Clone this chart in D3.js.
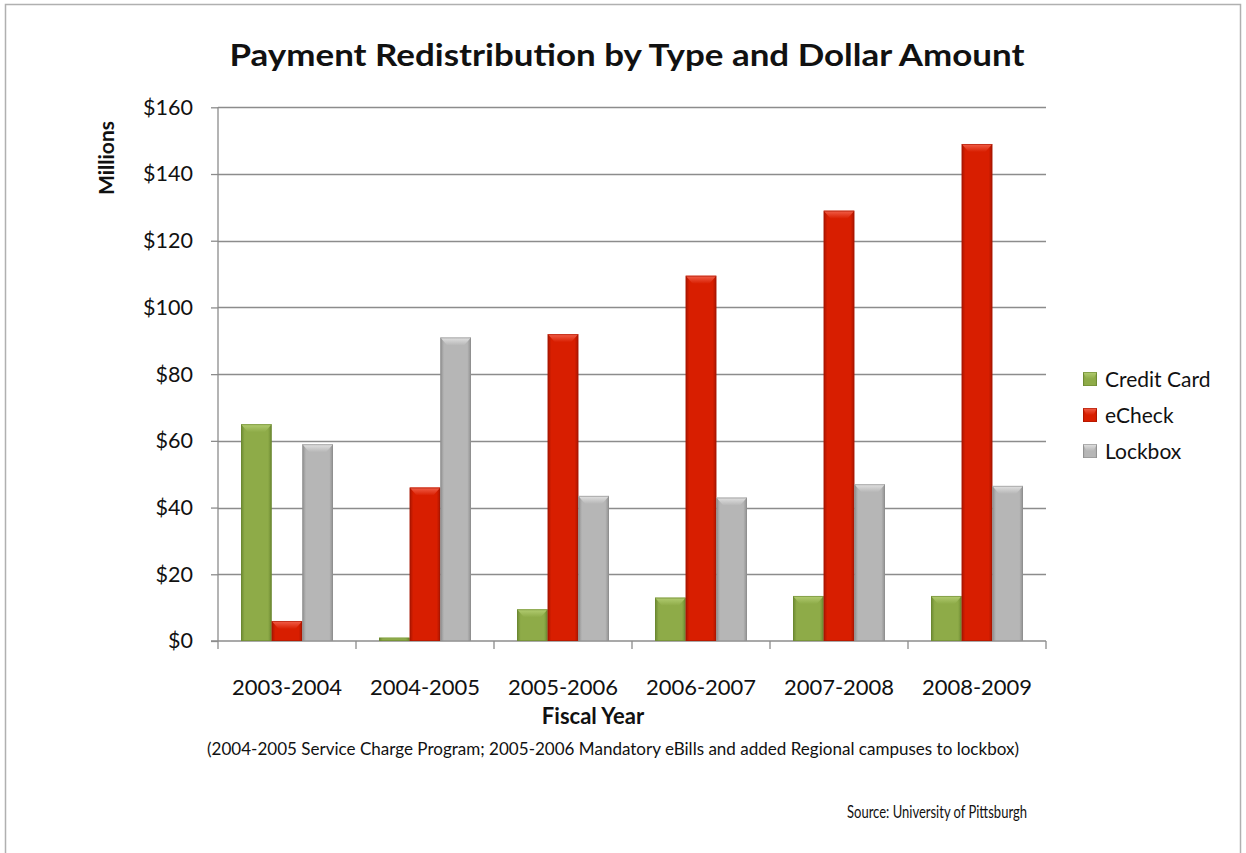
<!DOCTYPE html>
<html><head><meta charset="utf-8">
<script src="https://cdn.jsdelivr.net/npm/d3@7"></script>
<style>body{margin:0;background:#fff;} svg{display:block;font-family:Lato,"Open Sans",sans-serif;}</style>
</head><body>
<svg id="c" width="1246" height="853"></svg>
<script>
const categories = ["2003-2004","2004-2005","2005-2006","2006-2007","2007-2008","2008-2009"];
const seriesNames = ["Credit Card","eCheck","Lockbox"];
const creditCard = [65, 1, 9.5, 13, 13.5, 13.5];
const eCheck = [6, 46, 92, 109.5, 129, 149];
const lockbox = [59, 91, 43.5, 43, 47, 46.5];
const yTicks = [0,20,40,60,80,100,120,140,160];
const seriesValues = [creditCard, eCheck, lockbox];

(function(){
const palette = [
  {base:"#8eab48", light:"#b3cd72", dark:"#6a8730"},
  {base:"#d81e00", light:"#f2604a", dark:"#a81500"},
  {base:"#b6b6b6", light:"#e2e2e2", dark:"#8e8e8e"}
];

const svg = d3.select("#c");
const defs = svg.append("defs");
palette.forEach((p,i)=>{
  const g = defs.append("linearGradient").attr("id","g"+i).attr("x1","0").attr("x2","1").attr("y1","0").attr("y2","0");
  g.append("stop").attr("offset","0").attr("stop-color",p.dark);
  g.append("stop").attr("offset","0.12").attr("stop-color",p.base);
  g.append("stop").attr("offset","0.5").attr("stop-color",p.base);
  g.append("stop").attr("offset","0.88").attr("stop-color",p.base);
  g.append("stop").attr("offset","1").attr("stop-color",p.dark);
  const t = defs.append("linearGradient").attr("id","t"+i).attr("x1","0").attr("x2","0").attr("y1","0").attr("y2","1");
  t.append("stop").attr("offset","0").attr("stop-color",p.light);
  t.append("stop").attr("offset","1").attr("stop-color",p.base);
});

// outer border
svg.append("rect").attr("x",5.5).attr("y",4.5).attr("width",1235).attr("height",900)
  .attr("fill","none").attr("stroke","#b0b0b0").attr("stroke-width",1.5);

const pLeft=218, pRight=1046, pTop=107.3, pBottom=641;
const x = d3.scaleBand().domain(categories).range([pLeft,pRight]).paddingInner(0).paddingOuter(0);
const groupW = x.bandwidth()*3/4.5; // gap 150%
const xs = d3.scaleBand().domain(seriesNames).range([0,groupW]);
const y = d3.scaleLinear().domain([0,160]).range([pBottom,pTop]);

// gridlines
svg.append("g").selectAll("line").data(yTicks.filter(d=>d>0)).join("line")
  .attr("x1",pLeft).attr("x2",pRight).attr("y1",d=>Math.round(y(d))+0.5).attr("y2",d=>Math.round(y(d))+0.5)
  .attr("stroke","#8c8c8c").attr("stroke-width",1.3);

// y axis
const yAxis = svg.append("g").attr("transform",`translate(${pLeft},0)`)
  .call(d3.axisLeft(y).tickValues(yTicks).tickFormat(d=>"$"+d).tickSize(7).tickPadding(18));
yAxis.attr("font-family","Lato");
yAxis.select(".domain").attr("stroke","#8c8c8c").attr("stroke-width",1.3).attr("d",`M0,${pTop}V${pBottom}`);
yAxis.selectAll(".tick line").attr("stroke","#8c8c8c").attr("stroke-width",1.3);
yAxis.selectAll(".tick text").attr("font-size",21.5).attr("fill","#111");

// x axis
const xAxis = svg.append("g").attr("transform",`translate(0,${pBottom})`)
  .call(d3.axisBottom(x).tickSize(0).tickPadding(0));
xAxis.attr("font-family","Lato");
xAxis.select(".domain").attr("stroke","#8c8c8c").attr("stroke-width",1.3).attr("d",`M${pLeft-7},0H${pRight}`);
xAxis.selectAll(".tick text").attr("font-size",22).attr("fill","#111").attr("dy","0").attr("y",54);
svg.append("g").selectAll("line").data(d3.range(categories.length+1)).join("line")
  .attr("x1",i=>pLeft+i*x.bandwidth()).attr("x2",i=>pLeft+i*x.bandwidth())
  .attr("y1",pBottom).attr("y2",pBottom+8).attr("stroke","#8c8c8c").attr("stroke-width",1.3);

// bars
function bevelBar(g, bx, by, bw, bh, i){
  if(bh<=0) return;
  g.append("rect").attr("x",bx).attr("y",by).attr("width",bw).attr("height",bh).attr("fill",`url(#g${i})`);
  const d = Math.min(8, bh/2), inset = Math.min(7, bw/4);
  g.append("path").attr("d",`M${bx},${by}H${bx+bw}L${bx+bw-inset},${by+d}H${bx+inset}Z`).attr("fill",`url(#t${i})`);
  g.append("rect").attr("x",bx+0.5).attr("y",by+0.5).attr("width",Math.max(0,bw-1)).attr("height",Math.max(0,bh-1))
    .attr("fill","none").attr("stroke",palette[i].dark).attr("stroke-opacity",0.6).attr("stroke-width",1);
}
const barsG = svg.append("g");
categories.forEach((c,ci)=>{
  const gx = x(c) + (x.bandwidth()-groupW)/2;
  seriesValues.forEach((vals,si)=>{
    const v = vals[ci];
    bevelBar(barsG, gx+xs(seriesNames[si]), y(v), xs.bandwidth(), y(0)-y(v), si);
  });
});

// title
svg.append("text").attr("x",627).attr("y",66).attr("text-anchor","middle")
  .attr("font-size",30).attr("font-weight","bold").attr("fill","#111")
  .attr("textLength",795).attr("lengthAdjust","spacingAndGlyphs")
  .text("Payment Redistribution by Type and Dollar Amount");

// axis titles
svg.append("text").attr("transform","translate(114,158) rotate(-90)").attr("text-anchor","middle")
  .attr("font-size",21).attr("font-weight","bold").attr("fill","#111").text("Millions");
svg.append("text").attr("x",593).attr("y",724).attr("text-anchor","middle")
  .attr("font-size",22).attr("font-weight","bold").attr("fill","#111").text("Fiscal Year");

// footnotes
svg.append("text").attr("x",207).attr("y",755).attr("font-size",18).attr("fill","#111")
  .attr("textLength",812).attr("lengthAdjust","spacingAndGlyphs")
  .text("(2004-2005 Service Charge Program; 2005-2006 Mandatory eBills and added Regional campuses to lockbox)");
svg.append("text").attr("x",847).attr("y",818).attr("font-size",18).attr("fill","#111")
  .attr("textLength",180).attr("lengthAdjust","spacingAndGlyphs")
  .text("Source: University of Pittsburgh");

// legend
const leg = svg.append("g");
seriesNames.forEach((n,i)=>{
  const ly = 379 + i*36;
  bevelBar(leg, 1083, ly-7, 14, 14, i);
  leg.append("text").attr("x",1105).attr("y",ly+7.5).attr("font-size",21).attr("fill","#111").text(n);
});
})();
</script>
</body></html>
